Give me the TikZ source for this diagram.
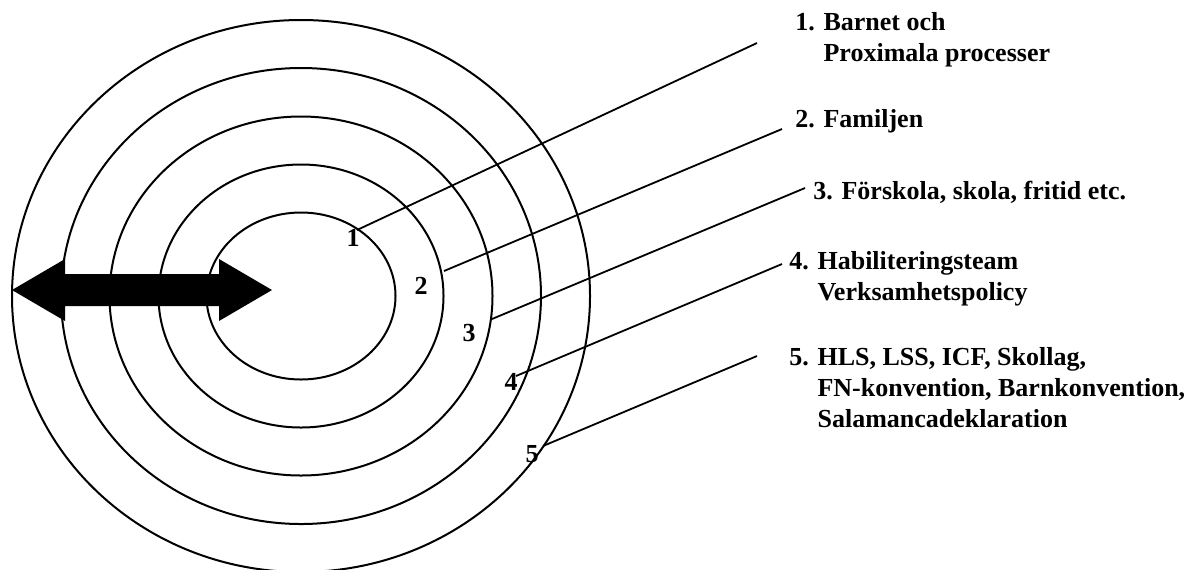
\documentclass[tikz,border=0pt]{standalone}
\usepackage{fontspec}
\setmainfont{Liberation Serif}
\begin{document}
\begin{tikzpicture}[x=0.5pt,y=-0.5pt,
  ring/.style={line width=1pt},
  conn/.style={line width=0.9pt},
  lbl/.style={anchor=base west,inner sep=0pt,font=\fontsize{13}{15.5}\selectfont\bfseries},
  num/.style={inner sep=0pt,font=\fontsize{13}{15.5}\selectfont\bfseries},
  bigarrow/.style={fill=black,draw=none}]
\useasboundingbox (0,0) rectangle (1192,569);
\clip (0,0) rectangle (1192,569);
\coordinate (c) at (301,296);
% rings
\draw[ring] (c) ellipse [x radius=47.25pt, y radius=41.75pt];
\draw[ring] (c) ellipse [x radius=71.25pt, y radius=65.75pt];
\draw[ring] (c) ellipse [x radius=95.75pt, y radius=89.75pt];
\draw[ring] (c) ellipse [x radius=120pt, y radius=114pt];
\draw[ring] (c) ellipse [x radius=144.5pt, y radius=138pt];
% double arrow
\fill[bigarrow] (12,290) -- (65,259) -- (65,274) -- (219,274) -- (219,259) -- (272,290)
  -- (219,321) -- (219,306) -- (65,306) -- (65,321) -- cycle;
% ring numbers
\node[num] (n1) at (353,238) {1};
\node[num] (n2) at (421,286) {2};
\node[num] (n3) at (469,333) {3};
\node[num] (n4) at (511,382) {4};
\node[num] (n5) at (532,454) {5};
% connector ends
\coordinate (s1) at (357,230);
\coordinate (s2) at (444,271);
\coordinate (s3) at (492,319);
\coordinate (s4) at (516,376);
\coordinate (s5) at (543,446);
\coordinate (e1) at (757,43);
\coordinate (e2) at (782,129);
\coordinate (e3) at (805,188);
\coordinate (e4) at (782,264);
\coordinate (e5) at (757,356);
\draw[conn] (s1) -- (e1);
\draw[conn] (s2) -- (e2);
\draw[conn] (s3) -- (e3);
\draw[conn] (s4) -- (e4);
\draw[conn] (s5) -- (e5);
% labels
\node[lbl] (t1) at (795,30) {\begin{tabular}[t]{@{}l@{}}1. Barnet och\\\hphantom{1. }Proximala processer\end{tabular}};
\node[lbl] (t2) at (795,127) {2. Familjen};
\node[lbl] (t3) at (813,199) {3. Förskola, skola, fritid etc.};
\node[lbl] (t4) at (789,269) {\begin{tabular}[t]{@{}l@{}}4. Habiliteringsteam\\\hphantom{4. }Verksamhetspolicy\end{tabular}};
\node[lbl] (t5) at (789,365) {\begin{tabular}[t]{@{}l@{}}5. HLS, LSS, ICF, Skollag,\\\hphantom{5. }FN-konvention, Barnkonvention,\\\hphantom{5. }Salamancadeklaration\end{tabular}};
\end{tikzpicture}
\end{document}
